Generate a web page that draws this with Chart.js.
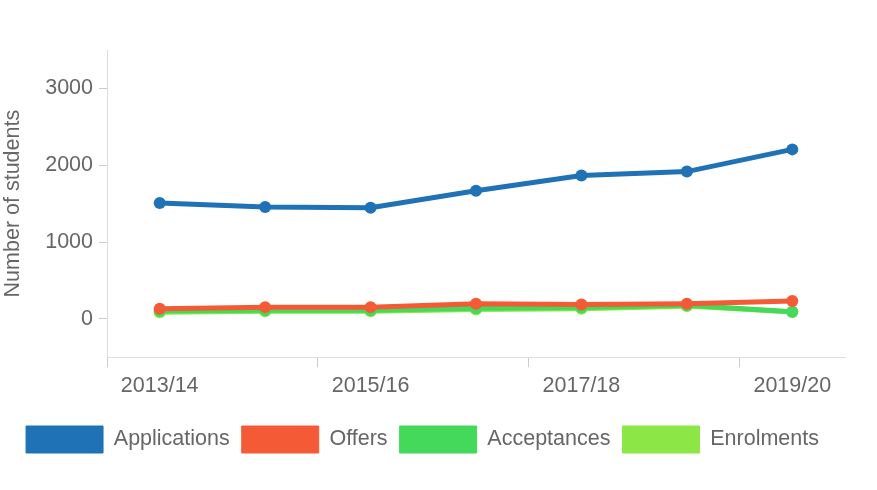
<!DOCTYPE html>
<html>
<head>
<meta charset="utf-8">
<script src="https://cdn.jsdelivr.net/npm/chart.js@4.4.0/dist/chart.umd.min.js"></script>
<style>
  html, body { margin: 0; padding: 0; background: #fff; }
  #wrap { width: 877px; height: 490px; }
</style>
</head>
<body>
<div id="wrap"><canvas id="studentsChart"></canvas></div>
<script>
// Data
const years = ['2013/14', '2014/15', '2015/16', '2016/17', '2017/18', '2018/19', '2019/20'];
const applications = [1507, 1455, 1446, 1668, 1865, 1917, 2206];
const offers = [131, 152, 152, 197, 187, 197, 231];
const acceptances = [100, 112, 112, 138, 148, 175, 92];
const enrolments = [85, 97, 97, 120, 132, 165, 88];

const yTicks = [0, 1000, 2000, 3000];

Chart.defaults.font.family = "'Liberation Sans', Arial, sans-serif";
Chart.defaults.font.size = 21.5;
Chart.defaults.color = '#666';

function series(label, data, color) {
  return {
    label: label,
    data: data,
    borderColor: color,
    backgroundColor: color,
    borderWidth: 5,
    pointRadius: 6,
    pointHoverRadius: 6,
    pointBackgroundColor: color,
    pointBorderWidth: 0,
    tension: 0,
    fill: false
  };
}

const chart = new Chart(document.getElementById('studentsChart'), {
  type: 'line',
  data: {
    labels: years,
    datasets: [
      series('Applications', applications, '#1f72b5'),
      series('Offers', offers, '#f55a36'),
      series('Acceptances', acceptances, '#44d95a'),
      series('Enrolments', enrolments, '#8ce646')
    ]
  },
  options: {
    responsive: true,
    maintainAspectRatio: false,
    animation: false,
    layout: { padding: { top: 50, right: 32, left: 0, bottom: 27 } },
    plugins: {
      tooltip: { enabled: false },
      legend: {
        position: 'bottom',
        labels: {
          boxWidth: 77,
          boxHeight: 27,
          padding: 12,
          color: '#666',
          // thin outline on the legend boxes instead of the 5px line width
          generateLabels: c => Chart.defaults.plugins.legend.labels.generateLabels(c)
            .map(item => Object.assign(item, { lineWidth: 1 }))
        }
      }
    },
    scales: {
      x: {
        offset: true,
        border: { color: '#ddd' },
        grid: {
          offset: true,
          drawOnChartArea: false,
          tickLength: 10,
          color: ctx => (ctx.index % 2 === 0 ? '#ccc' : 'transparent')
        },
        ticks: {
          autoSkip: false,
          maxRotation: 0,
          padding: 6,
          callback: function (v, i) { return i % 2 === 0 ? this.getLabelForValue(v) : ''; }
        },
        afterFit: scale => { scale.height += 9; }
      },
      y: {
        min: -500,
        max: 3500,
        border: { color: '#ddd' },
        grid: { drawOnChartArea: false, tickLength: 8, color: '#ccc' },
        ticks: { padding: 6, callback: v => String(v) },
        afterBuildTicks: scale => {
          scale.ticks = yTicks.map(v => ({ value: v }));
        },
        afterFit: scale => { scale.width = 107; },
        title: {
          display: true,
          text: 'Number of students',
          padding: { top: 0, bottom: 0 }
        }
      }
    }
  }
});
</script>
</body>
</html>
